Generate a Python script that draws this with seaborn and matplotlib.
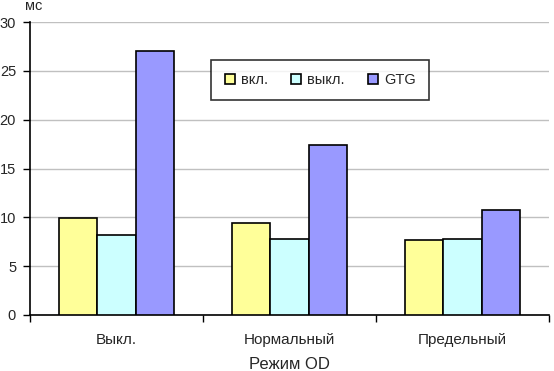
import matplotlib
matplotlib.use("Agg")
import matplotlib.pyplot as plt
import pandas as pd
import seaborn as sns

modes = ["Выкл.", "Нормальный", "Предельный"]
series = ["вкл.", "выкл.", "GTG"]
on_vals = [9.9, 9.4, 7.7]
off_vals = [8.2, 7.8, 7.8]
gtg_vals = [27.0, 17.4, 10.8]
colors = ["#ffff99", "#ccffff", "#9999ff"]

rows = []
for name, vals in zip(series, [on_vals, off_vals, gtg_vals]):
    for m, v in zip(modes, vals):
        rows.append({"mode": m, "series": name, "value": v})
df = pd.DataFrame(rows)

sns.set_style("white")
plt.rcParams["font.family"] = ["Liberation Sans", "DejaVu Sans"]

fig = plt.figure(figsize=(5.54, 3.71), dpi=100)
ax = fig.add_axes([30 / 554, 56 / 371, 519 / 554, 293 / 371])

sns.barplot(
    df,
    ax=ax,
    x="mode",
    y="value",
    hue="series",
    order=modes,
    hue_order=series,
    palette=colors,
    width=0.667,
    edgecolor="black",
    linewidth=1.2,
    saturation=1,
    errorbar=None,
    zorder=3,
)

ax.set_ylim(0, 30)
ax.set_xlim(-0.5, 2.5)
ax.set_yticks(range(0, 31, 5))
ax.yaxis.grid(True, color="#c0c0c0", linewidth=1, zorder=0)
ax.set_axisbelow(True)
for s in ["top", "right"]:
    ax.spines[s].set_visible(False)
for s in ["left", "bottom"]:
    ax.spines[s].set_color("black")
    ax.spines[s].set_linewidth(1.2)

# ticks between categories, like Excel
ax.set_xticks([0, 1, 2])
ax.set_xticks([-0.5, 0.5, 1.5, 2.5], minor=True)
ax.tick_params(axis="x", which="major", length=0, labelsize=11, pad=13)
ax.tick_params(axis="x", which="minor", length=5, width=1, color="black", direction="out", bottom=True)
ax.tick_params(axis="y", length=5, width=1, color="black", direction="out", left=True, labelsize=10.5, pad=5)

ax.set_xlabel("Режим OD", fontsize=12, labelpad=7)
ax.set_ylabel("")
ax.text(-5 / 519, 1 + 12 / 293, "мс", transform=ax.transAxes, fontsize=10.5, ha="left", va="baseline")

handles, labels = ax.get_legend_handles_labels()
leg = ax.legend(
    handles,
    labels,
    ncol=3,
    loc="center",
    bbox_to_anchor=(0.559, 0.802),
    frameon=True,
    fancybox=False,
    edgecolor="black",
    fontsize=10.5,
    handlelength=0.7,
    handleheight=0.7,
    handletextpad=0.4,
    columnspacing=1.6,
    borderpad=0.9,
)
leg.get_frame().set_linewidth(1.2)

fig.savefig("out.png", dpi=100)
